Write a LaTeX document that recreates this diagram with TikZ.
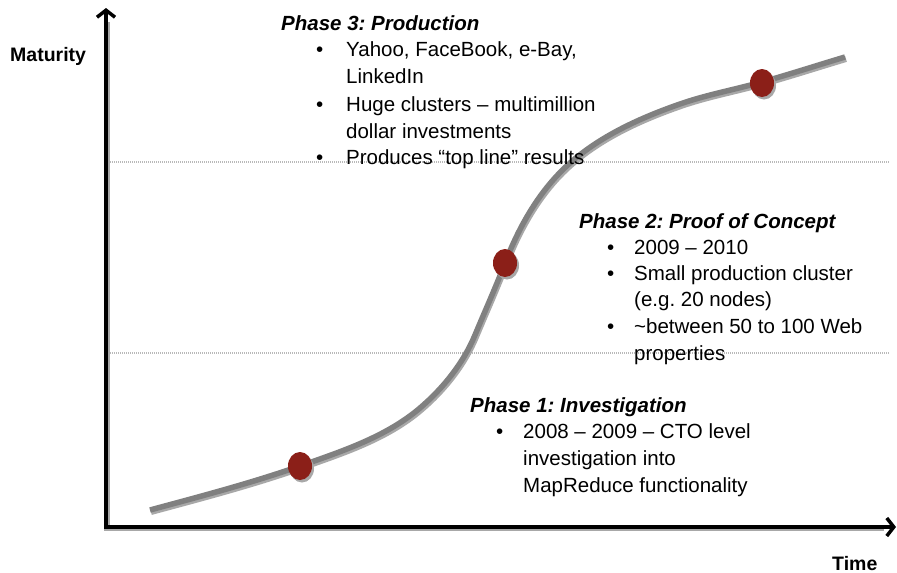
\documentclass[tikz,border=0pt]{standalone}
\usepackage{fontspec}
\setmainfont{Liberation Sans}
\usetikzlibrary{arrows.meta,shapes.geometric}
\definecolor{dotred}{HTML}{8B1F18}
\definecolor{curvegray}{HTML}{808080}
\definecolor{shadowgray}{HTML}{A8A8A8}
\frenchspacing
\tikzset{
  txt/.style={anchor=base west,inner sep=0pt,font=\fontsize{20.5}{24}\selectfont},
  ttl/.style={txt,font=\fontsize{20.5}{24}\selectfont\bfseries\itshape},
  axlabel/.style={anchor=base west,inner sep=0pt,font=\fontsize{19.5}{24}\selectfont\bfseries},
  axisline/.style={line width=4pt,-{Straight Barb[length=7pt,width=18pt,line width=3.5pt]}},
  axisshadow/.style={line width=4pt,draw=shadowgray},
  gridline/.style={draw=gray!55,line width=2.5pt,dash pattern=on 1pt off 1pt},
  milestone/.style={ellipse,fill=dotred,minimum width=24pt,minimum height=28pt,inner sep=0pt},
  milestoneshadow/.style={ellipse,fill=shadowgray,minimum width=24pt,minimum height=28pt,inner sep=0pt},
}
\newcommand{\maturitycurve}{(150,510) .. controls (200.3,496.4) and (250.8,483.2) .. (300,466)
 .. controls (341.9,451.3) and (386.2,436.8) .. (420,408)
 .. controls (443.2,388.2) and (463.3,363.2) .. (475,335)
 .. controls (485,311) and (495.7,287.3) .. (505,263)
 .. controls (519.3,225.9) and (540.1,189.3) .. (570,163)
 .. controls (601.2,135.5) and (640.7,117.7) .. (680,104)
 .. controls (706.7,94.7) and (734.7,89.6) .. (762,82)
 .. controls (789.8,74.2) and (817.3,65.3) .. (845,57)}
\begin{document}
\begin{tikzpicture}[x=1pt,y=-1pt]
\useasboundingbox[fill=white] (0,0) rectangle (897,573);
% dotted level lines
\draw[gridline] (108,162) -- (890,162);
\draw[gridline] (108,353) -- (890,353);
% curve
\begin{scope}[shift={(1,2)}]
\draw[shadowgray,line width=6pt] \maturitycurve;
\end{scope}
\draw[curvegray,line width=5.5pt] \maturitycurve;
% milestones
\node[milestoneshadow] at (302,468.5) {};
\node[milestoneshadow] at (507,265.5) {};
\node[milestoneshadow] at (764,85.5) {};
\node[milestone] (m1) at (300,466) {};
\node[milestone] (m2) at (505,263) {};
\node[milestone] (m3) at (762,83) {};
% axes
\coordinate (origin) at (106,527);
\coordinate (ytip) at (106,8);
\coordinate (xtip) at (896,527);
\draw[axisshadow] (108,529) -- (108,22);
\draw[axisshadow] (104,529) -- (884,529);
\draw[axisline] (106,527) -- (ytip);
\draw[axisline] (104,527) -- (xtip);
\node[axlabel] (maturity) at (10,61) {Maturity};
\node[axlabel] (time) at (832,570) {Time};
% Phase 3
\node[ttl] (p3) at (281,30) {Phase 3: Production};
\node[txt] (p3b1) at (316,56) {•};
\node[txt] (p3l1) at (346,56) {Yahoo, FaceBook, e-Bay,};
\node[txt] (p3l2) at (346,83) {LinkedIn};
\node[txt] (p3b2) at (316,111) {•};
\node[txt] (p3l3) at (346,111) {Huge clusters – multimillion};
\node[txt] (p3l4) at (346,138) {dollar investments};
\node[txt] (p3b3) at (316,164) {•};
\node[txt] (p3l5) at (346,164) {Produces “top line” results};
% Phase 2
\node[ttl] (p2) at (579,228) {Phase 2: Proof of Concept};
\node[txt] (p2b1) at (607,254) {•};
\node[txt] (p2l1) at (634,254) {2009 – 2010};
\node[txt] (p2b2) at (607,280) {•};
\node[txt] (p2l2) at (634,280) {Small production cluster};
\node[txt] (p2l3) at (634,306) {(e.g. 20 nodes)};
\node[txt] (p2b3) at (607,333) {•};
\node[txt] (p2l4) at (634,333) {\textasciitilde between 50 to 100 Web};
\node[txt] (p2l5) at (634,360) {properties};
% Phase 1
\node[ttl] (p1) at (470,412) {Phase 1: Investigation};
\node[txt] (p1b1) at (496,438) {•};
\node[txt] (p1l1) at (523,438) {2008 – 2009 – CTO level};
\node[txt] (p1l2) at (523,465) {investigation into};
\node[txt] (p1l3) at (523,492) {MapReduce functionality};
\end{tikzpicture}
\end{document}
